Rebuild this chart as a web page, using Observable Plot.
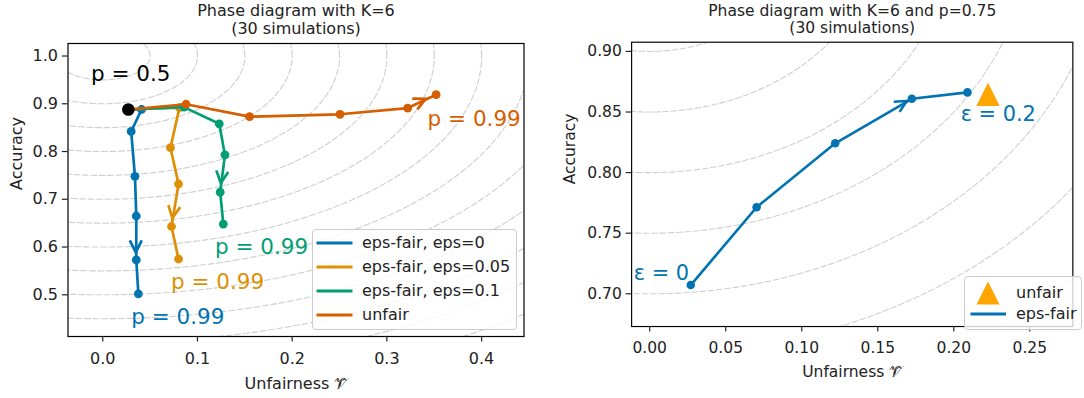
<!DOCTYPE html>
<html>
<head>
<meta charset="utf-8">
<script src="https://cdn.jsdelivr.net/npm/d3@7"></script>
<script src="https://cdn.jsdelivr.net/npm/@observablehq/plot@0.6"></script>
<style>
  html, body { margin: 0; padding: 0; background: #fff; }
  #wrap { position: relative; width: 1084px; height: 398px; overflow: hidden; font-family: "DejaVu Sans", sans-serif; background: #fff; }
  #left, #right { position: absolute; top: 0; }
  #left { left: 0; }
  #right { left: 560px; }
  .legend { position: absolute; background: rgba(255,255,255,0.8); border: 1px solid #cccccc; border-radius: 4px; box-sizing: border-box; font-size: 16px; color: #222; }
  .legend .row { position: absolute; left: 0; height: 20px; line-height: 20px; white-space: nowrap; }
  .legend svg { position: absolute; top: 0; }
  .legend span { position: absolute; top: 0; }
</style>
</head>
<body>
<div id="wrap"><div id="left"></div><div id="right"></div></div>
<script>
// ---------------- data ----------------
const seriesNames = ["eps-fair, eps=0", "eps-fair, eps=0.05", "eps-fair, eps=0.1", "unfair"];
const p05Start = {x: 0.027, y: 0.888};

const eps0X   = [0.027, 0.041, 0.030, 0.034, 0.0354, 0.0354, 0.0376];
const eps0Y   = [0.888, 0.888, 0.842, 0.748, 0.665, 0.573, 0.502];
const eps005X = [0.027, 0.081, 0.0715, 0.080, 0.0726, 0.080];
const eps005Y = [0.888, 0.892, 0.808, 0.732, 0.643, 0.575];
const eps01X  = [0.027, 0.0857, 0.123, 0.129, 0.124, 0.1273];
const eps01Y  = [0.888, 0.893, 0.858, 0.793, 0.715, 0.648];
const unfairX = [0.027, 0.088, 0.155, 0.2505, 0.322, 0.352];
const unfairY = [0.888, 0.899, 0.873, 0.878, 0.891, 0.919];
// arrow: which segment of each series, and how far along it the arrow tip sits
const arrowSegment  = [4, 3, 3, 4];
const arrowFraction = [0.84, 0.81, 0.77, 0.65];

const rightNames = ["unfair", "eps-fair"];
const rightEpsFairX = [0.027, 0.0703, 0.122, 0.1724, 0.209];
const rightEpsFairY = [0.7072, 0.7714, 0.8242, 0.8609, 0.8662];
const rightUnfairX = [0.2225];
const rightUnfairY = [0.8646];
const rightArrowSegment = 2;
const rightArrowFraction = 0.94;

// contour levels: distance from the ideal point (unfairness 0, accuracy 1)
const contourCenterX = 0, contourCenterY = 1;
const contourLevels = [0.05, 0.1, 0.15, 0.2, 0.25, 0.3, 0.35, 0.4, 0.45, 0.5, 0.55, 0.6, 0.65, 0.7, 0.75];

// annotations (data coordinates)
const leftAnnText   = ["p = 0.5", "p = 0.99", "p = 0.99", "p = 0.99", "p = 0.99"];
const leftAnnX      = [-0.0125, 0.343, 0.1185, 0.072, 0.030];
const leftAnnY      = [0.948, 0.8545, 0.5854, 0.5132, 0.4396];
const leftAnnSeries = [-1, 3, 2, 1, 0];
const rightAnnText  = ["ε = 0.2", "ε = 0"];
const rightAnnX     = [0.2045, -0.0105];
const rightAnnY     = [0.8423, 0.7112];

// axes
const leftXTicks = [0, 0.1, 0.2, 0.3, 0.4];
const leftYTicks = [0.5, 0.6, 0.7, 0.8, 0.9, 1.0];
const rightXTicks = [0, 0.05, 0.1, 0.15, 0.2, 0.25];
const rightYTicks = [0.70, 0.75, 0.80, 0.85, 0.90];
const leftXDomain = [-0.0367, 0.4448];
const leftYDomain = [0.4127, 1.0262];
const rightXDomain = [-0.0119, 0.2783];
const rightYDomain = [0.673, 0.9076];

const leftTitle = "Phase diagram with K=6\n(30 simulations)";
const rightTitle = "Phase diagram with K=6 and p=0.75\n(30 simulations)";
const xLabel = "Unfairness 𝒱̂";
const yLabel = "Accuracy";

// ---------------- styles ----------------
const palette = ["#0173B2", "#DE8F05", "#029E73", "#D55E00"];
const unfairMarkerColor = "#FFA500";
const FONT = "DejaVu Sans";
const LW = 2.7;

// ---------------- helpers ----------------
const toPts = (X, Y) => X.map((x, i) => ({x, y: Y[i]}));
const leftSeries = [toPts(eps0X, eps0Y), toPts(eps005X, eps005Y), toPts(eps01X, eps01Y), toPts(unfairX, unfairY)];
const rightSeries = toPts(rightEpsFairX, rightEpsFairY);

const angles = d3.range(0, 721).map(d => d * Math.PI / 360);
const contourPts = contourLevels.flatMap(r => angles.map(a => ({r, x: contourCenterX + r * Math.cos(a), y: contourCenterY + r * Math.sin(a)})));

function arrowSpec(pts, seg, frac, color) {
  const a = pts[seg], b = pts[seg + 1];
  return {x0: a.x, y0: a.y, x1: a.x + frac * (b.x - a.x), y1: a.y + frac * (b.y - a.y), color};
}
function arrowHeads(list) {
  return (index, scales) => {
    const g = d3.create("svg:g");
    const L = 13.4, w = 26.6 * Math.PI / 180;
    for (const a of list) {
      const X0 = scales.x(a.x0), Y0 = scales.y(a.y0), X1 = scales.x(a.x1), Y1 = scales.y(a.y1);
      const ang = Math.atan2(Y1 - Y0, X1 - X0);
      const p1 = [X1 - L * Math.cos(ang - w), Y1 - L * Math.sin(ang - w)];
      const p2 = [X1 - L * Math.cos(ang + w), Y1 - L * Math.sin(ang + w)];
      g.append("path")
        .attr("d", `M${p1[0]},${p1[1]}L${X1},${Y1}L${p2[0]},${p2[1]}`)
        .attr("fill", "none").attr("stroke", a.color)
        .attr("stroke-width", LW).attr("stroke-linejoin", "miter").attr("stroke-linecap", "butt");
    }
    return g.node();
  };
}

function frameMarks(title, xTicks, yTicks, fmt, yLabelDx) {
  return [
    Plot.frame({stroke: "#000", strokeWidth: 1.2}),
    Plot.axisX({ticks: xTicks, tickFormat: d3.format(fmt), tickSize: 5.6, tickPadding: 10.5, label: null, strokeWidth: 1.2, fontSize: 16}),
    Plot.axisY({ticks: yTicks, tickFormat: d3.format(fmt), tickSize: 5.6, tickPadding: 4.5, label: null, strokeWidth: 1.2, fontSize: 16}),
    Plot.text([title], {text: d => d, frameAnchor: "top", dy: -9.7, lineAnchor: "bottom", lineHeight: 1.1, fontSize: 16}),
    Plot.text([xLabel], {text: d => d, frameAnchor: "bottom", dy: 52, lineAnchor: "bottom", fontSize: 16}),
    Plot.text([yLabel], {text: d => d, frameAnchor: "left", dx: yLabelDx, rotate: -90, lineAnchor: "middle", fontSize: 16})
  ];
}

const contourMark = Plot.line(contourPts, {x: "x", y: "y", z: "r", stroke: "#cfcfcf", strokeWidth: 1.1, strokeDasharray: "5.9,2.6", clip: true, curve: "linear"});

// ---------------- left plot ----------------
const leftArrows = leftSeries.map((pts, i) => arrowSpec(pts, arrowSegment[i], arrowFraction[i], palette[i]));
const leftAnn = leftAnnText.map((t, i) => ({t, x: leftAnnX[i], y: leftAnnY[i], s: leftAnnSeries[i]}));

const leftPlot = Plot.plot({
  width: 540, height: 398,
  marginLeft: 67.5, marginRight: 16.5, marginTop: 43, marginBottom: 62,
  style: {fontFamily: FONT, fontSize: "16px", color: "#222", background: "#fff"},
  x: {domain: leftXDomain},
  y: {domain: leftYDomain},
  marks: [
    contourMark,
    ...leftSeries.flatMap((pts, i) => [
      Plot.line(pts, {x: "x", y: "y", stroke: palette[i], strokeWidth: LW}),
      Plot.dot(pts, {x: "x", y: "y", fill: palette[i], r: 4.4})
    ]),
    arrowHeads(leftArrows),
    Plot.dot([p05Start], {x: "x", y: "y", fill: "#000", r: 6.3}),
    Plot.text(leftAnn, {x: "x", y: "y", text: "t", fill: d => d.s < 0 ? "#000" : palette[d.s], textAnchor: "start", lineAnchor: "bottom", fontSize: 21.5}),
    ...frameMarks(leftTitle, leftXTicks, leftYTicks, ".1f", -51.2)
  ]
});
document.getElementById("left").appendChild(leftPlot);

// ---------------- right plot ----------------
const rightArrow = [arrowSpec(rightSeries, rightArrowSegment, rightArrowFraction, palette[0])];
const rightAnn = rightAnnText.map((t, i) => ({t, x: rightAnnX[i], y: rightAnnY[i]}));
const rightUnfair = toPts(rightUnfairX, rightUnfairY);
const triangleUp = {
  draw(context, size) {
    const h = Math.sqrt(size / Math.PI);
    context.moveTo(0, -h); context.lineTo(h, h); context.lineTo(-h, h); context.closePath();
  }
};

const rightPlot = Plot.plot({
  width: 540, height: 398,
  marginLeft: 73.3, marginRight: 12, marginTop: 43, marginBottom: 62,
  style: {fontFamily: FONT, fontSize: "16px", color: "#222", background: "#fff"},
  x: {domain: rightXDomain},
  y: {domain: rightYDomain},
  marks: [
    contourMark,
    Plot.dot(rightUnfair, {x: "x", y: "y", fill: unfairMarkerColor, r: 12, symbol: triangleUp}),
    Plot.line(rightSeries, {x: "x", y: "y", stroke: palette[0], strokeWidth: LW}),
    Plot.dot(rightSeries, {x: "x", y: "y", fill: palette[0], r: 4.4}),
    arrowHeads(rightArrow),
    Plot.text(rightAnn, {x: "x", y: "y", text: "t", fill: palette[0], textAnchor: "start", lineAnchor: "bottom", fontSize: 21.5}),
    ...frameMarks(rightTitle, rightXTicks, rightYTicks, ".2f", -63.3)
  ]
});
document.getElementById("right").appendChild(rightPlot);

// ---------------- legends ----------------
const wrap = document.getElementById("wrap");
function makeLegend(box, rows) {
  const div = document.createElement("div");
  div.className = "legend";
  Object.assign(div.style, {left: box.left + "px", top: box.top + "px", width: box.width + "px", height: box.height + "px"});
  for (const r of rows) {
    const row = document.createElement("div");
    row.className = "row";
    row.style.top = (r.cy - 10) + "px";
    row.style.width = box.width + "px";
    const ns = "http://www.w3.org/2000/svg";
    const svg = document.createElementNS(ns, "svg");
    svg.setAttribute("width", 40); svg.setAttribute("height", 20);
    svg.style.left = "2px"; svg.style.overflow = "visible";
    if (r.kind === "line") {
      const l = document.createElementNS(ns, "line");
      l.setAttribute("x1", r.x0 - 2); l.setAttribute("x2", r.x1 - 2); l.setAttribute("y1", 10); l.setAttribute("y2", 10);
      l.setAttribute("stroke", r.color); l.setAttribute("stroke-width", 2.8);
      svg.appendChild(l);
    } else {
      const p = document.createElementNS(ns, "path");
      const cx = r.cx - 2, h = 11.5;
      p.setAttribute("d", `M${cx},${10 - h}L${cx + h},${10 + h}L${cx - h},${10 + h}Z`);
      p.setAttribute("fill", r.color);
      svg.appendChild(p);
    }
    row.appendChild(svg);
    const span = document.createElement("span");
    span.textContent = r.label;
    span.style.left = r.tx + "px";
    row.appendChild(span);
    div.appendChild(row);
  }
  wrap.appendChild(div);
}
makeLegend({left: 312, top: 229, width: 205, height: 101},
  seriesNames.map((name, i) => ({kind: "line", label: name, color: palette[i], cy: 12.5 + 24.2 * i, x0: 3.5, x1: 39.5, tx: 49})));
makeLegend({left: 964, top: 276, width: 118, height: 54}, [
  {kind: "marker", label: rightNames[0], color: unfairMarkerColor, cy: 15.5, cx: 23, tx: 51},
  {kind: "line", label: rightNames[1], color: palette[0], cy: 37, x0: 5.5, x1: 41, tx: 51}
]);
</script>
</body>
</html>
